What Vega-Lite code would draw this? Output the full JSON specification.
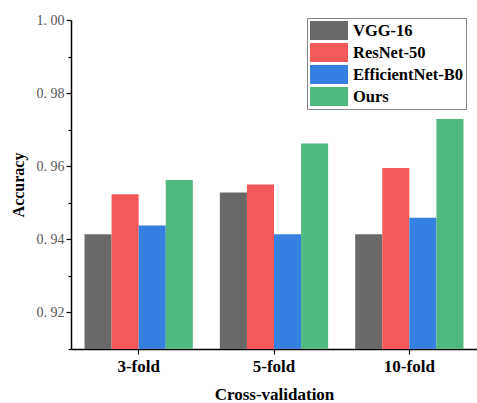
{
  "$schema": "https://vega.github.io/schema/vega-lite/v6.json",
  "autosize": "none",
  "width": 406,
  "height": 329,
  "padding": {"left": 71, "top": 20, "right": 0, "bottom": 54},
  "background": "white",
  "data": {
    "values": [
      {"fold": "3-fold", "model": "VGG-16", "acc": 0.9414},
      {"fold": "3-fold", "model": "ResNet-50", "acc": 0.9523},
      {"fold": "3-fold", "model": "EfficientNet-B0", "acc": 0.9438},
      {"fold": "3-fold", "model": "Ours", "acc": 0.9562},
      {"fold": "5-fold", "model": "VGG-16", "acc": 0.9528},
      {"fold": "5-fold", "model": "ResNet-50", "acc": 0.955},
      {"fold": "5-fold", "model": "EfficientNet-B0", "acc": 0.9414},
      {"fold": "5-fold", "model": "Ours", "acc": 0.9662},
      {"fold": "10-fold", "model": "VGG-16", "acc": 0.9414},
      {"fold": "10-fold", "model": "ResNet-50", "acc": 0.9595},
      {"fold": "10-fold", "model": "EfficientNet-B0", "acc": 0.9459},
      {"fold": "10-fold", "model": "Ours", "acc": 0.9729}
    ]
  },
  "mark": {"type": "bar", "clip": true},
  "encoding": {
    "x": {
      "field": "fold",
      "type": "nominal",
      "sort": ["3-fold", "5-fold", "10-fold"],
      "scale": {"paddingInner": 0.2, "paddingOuter": 0.1},
      "axis": {
        "title": "Cross-validation",
        "titleFont": "'Liberation Serif', 'Times New Roman', serif",
        "titleFontSize": 17,
        "titleFontWeight": "bold",
        "titleColor": "black",
        "titlePadding": 12,
        "labelFont": "'Liberation Serif', 'Times New Roman', serif",
        "labelFontSize": 17,
        "labelFontWeight": "bold",
        "labelColor": "black",
        "labelAngle": 0,
        "labelPadding": 4,
        "domainColor": "black",
        "domainWidth": 1.5,
        "tickColor": "black",
        "tickWidth": 1.2,
        "tickSize": 5
      }
    },
    "xOffset": {
      "field": "model",
      "type": "nominal",
      "sort": ["VGG-16", "ResNet-50", "EfficientNet-B0", "Ours"],
      "scale": {"paddingInner": 0, "paddingOuter": 0}
    },
    "y": {
      "field": "acc",
      "type": "quantitative",
      "stack": null,
      "scale": {"domain": [0.91, 1.0], "zero": false, "nice": false},
      "axis": {
        "title": "Accuracy",
        "titleFont": "'Liberation Serif', 'Times New Roman', serif",
        "titleFontSize": 16,
        "titleFontWeight": "bold",
        "titleColor": "black",
        "titlePadding": 10,
        "values": [0.91, 0.92, 0.93, 0.94, 0.95, 0.96, 0.97, 0.98, 0.99, 1.0],
        "labelExpr": "round(datum.value * 100) % 2 == 0 && datum.value > 0.915 ? replace(format(datum.value, '.2f'), '.', '. ') : ''",
        "labelFont": "'Liberation Serif', 'Times New Roman', serif",
        "labelFontSize": 14,
        "labelColor": "#555555",
        "labelPadding": 2,
        "grid": false,
        "domainColor": "black",
        "domainWidth": 1.5,
        "tickColor": "black",
        "tickWidth": 1.2,
        "tickSize": {"condition": {"test": "round(datum.value * 100) % 2 == 0", "value": 5}, "value": 3}
      }
    },
    "color": {
      "field": "model",
      "type": "nominal",
      "sort": ["VGG-16", "ResNet-50", "EfficientNet-B0", "Ours"],
      "scale": {
        "domain": ["VGG-16", "ResNet-50", "EfficientNet-B0", "Ours"],
        "range": ["#696969", "#F4595A", "#3580E0", "#50B97F"]
      },
      "legend": {
        "title": null,
        "orient": "none",
        "legendX": 236,
        "legendY": -2,
        "direction": "vertical",
        "strokeColor": "#888888",
        "padding": 3,
        "fillColor": "white",
        "symbolType": "M-1,-1H3V1H-1Z",
        "symbolSize": 361,
        "symbolStrokeWidth": 0,
        "symbolOpacity": 1,
        "labelFont": "'Liberation Serif', 'Times New Roman', serif",
        "labelFontSize": 16.5,
        "labelFontWeight": "bold",
        "labelColor": "black",
        "labelOffset": 24,
        "rowPadding": 3,
        "labelLimit": 200
      }
    }
  },
  "config": {
    "view": {"stroke": null}
  }
}
